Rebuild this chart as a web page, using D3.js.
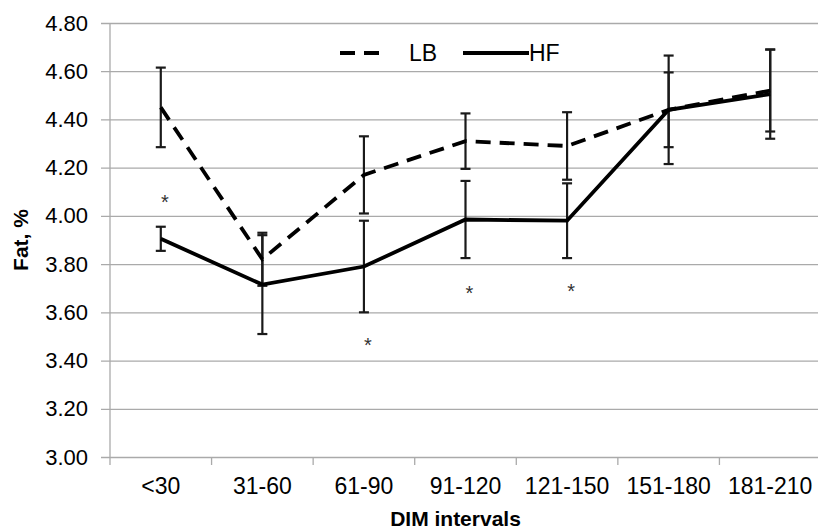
<!DOCTYPE html>
<html>
<head>
<meta charset="utf-8">
<script src="https://cdn.jsdelivr.net/npm/d3@7"></script>
<style>
  body { margin: 0; background: #fff; }
  svg { display: block; font-family: "Liberation Sans", Arial, sans-serif; }
</style>
</head>
<body>
<div id="chart"></div>
<script>
// data
const intervals = ["<30", "31-60", "61-90", "91-120", "121-150", "151-180", "181-210"];
const lbMean = [4.45, 3.82, 4.17, 4.31, 4.29, 4.44, 4.52];
const lbErr  = [0.165, 0.11, 0.16, 0.115, 0.14, 0.155, 0.17];
const hfMean = [3.905, 3.715, 3.79, 3.985, 3.98, 4.44, 4.505];
const hfErr  = [0.05, 0.205, 0.19, 0.16, 0.155, 0.225, 0.185];
const yTicks = [3.0, 3.2, 3.4, 3.6, 3.8, 4.0, 4.2, 4.4, 4.6, 4.8];
// significance marks: category and height (in % fat)
const stars = [
  { cat: "<30", y: 4.08 },
  { cat: "61-90", y: 3.485 },
  { cat: "91-120", y: 3.70 },
  { cat: "121-150", y: 3.71 }
];

const W = 818, H = 532;
const margin = {top: 23, right: -3, bottom: 75, left: 110};
const width = W - margin.left - margin.right,
      height = H - margin.top - margin.bottom;

const svg = d3.select("#chart").append("svg")
    .attr("width", W).attr("height", H)
  .append("g")
    .attr("transform", `translate(${margin.left},${margin.top})`);

const x = d3.scaleBand().domain(intervals).range([0, width]);
const y = d3.scaleLinear().domain([3.0, 4.8]).range([height, 0]);
const cx = d => x(d) + x.bandwidth() / 2;

// gridlines + y ticks
svg.append("g")
    .call(d3.axisLeft(y).tickValues(yTicks).tickFormat(d3.format(".2f"))
      .tickSize(-width).tickPadding(22))
    .call(g => g.select(".domain").remove())
    .call(g => g.selectAll(".tick line").attr("stroke", "#aaaaaa").attr("stroke-width", 1.3)
      .attr("x1", -9))
    .call(g => g.selectAll(".tick text").attr("fill", "#000").style("font-size", "22px"));

// y axis line
svg.append("line")
    .attr("x1", 0).attr("x2", 0).attr("y1", 0).attr("y2", height)
    .attr("stroke", "#aaaaaa").attr("stroke-width", 1.3);

// x axis: tick marks at category boundaries
svg.append("g")
    .attr("transform", `translate(0,${height})`)
    .selectAll("line")
    .data(intervals)
    .join("line")
    .attr("x1", d => x(d)).attr("x2", d => x(d))
    .attr("y1", 0).attr("y2", 8)
    .attr("stroke", "#aaaaaa").attr("stroke-width", 1.3);

svg.append("g")
    .selectAll("text")
    .data(intervals)
    .join("text")
    .attr("x", d => cx(d))
    .attr("y", height + 29)
    .attr("text-anchor", "middle")
    .attr("dominant-baseline", "central")
    .style("font-size", "23px")
    .text(d => d);

// axis titles
svg.append("text")
    .attr("x", width / 2 - 10)
    .attr("y", H - margin.top - 6)
    .attr("text-anchor", "middle")
    .style("font-size", "21px").style("font-weight", "bold")
    .text("DIM intervals");

svg.append("text")
    .attr("transform", "rotate(-90)")
    .attr("x", -(240 - margin.top))
    .attr("y", -90)
    .attr("text-anchor", "middle")
    .attr("dominant-baseline", "central")
    .style("font-size", "21px").style("font-weight", "bold")
    .text("Fat, %");

// error bars
function errorBars(means, errs) {
  const g = svg.append("g").attr("stroke", "#1a1a1a").attr("stroke-width", 2.2);
  intervals.forEach((c, i) => {
    const lo = y(means[i] - errs[i]), hi = y(means[i] + errs[i]);
    g.append("line").attr("x1", cx(c)).attr("x2", cx(c)).attr("y1", lo).attr("y2", hi);
    g.append("line").attr("x1", cx(c) - 5).attr("x2", cx(c) + 5).attr("y1", lo).attr("y2", lo);
    g.append("line").attr("x1", cx(c) - 5).attr("x2", cx(c) + 5).attr("y1", hi).attr("y2", hi);
  });
}
errorBars(lbMean, lbErr);
errorBars(hfMean, hfErr);

// lines
const line = d3.line().x((d, i) => cx(intervals[i])).y(d => y(d));

svg.append("path")
    .datum(lbMean)
    .attr("fill", "none").attr("stroke", "#000").attr("stroke-width", 3.8)
    .attr("stroke-dasharray", "15,9")
    .attr("d", line);

svg.append("path")
    .datum(hfMean)
    .attr("fill", "none").attr("stroke", "#000").attr("stroke-width", 3.8)
    .attr("d", line);

// asterisks
svg.append("g")
    .selectAll("text")
    .data(stars)
    .join("text")
    .attr("x", d => cx(d.cat) + 4)
    .attr("y", d => y(d.y) + 5)
    .attr("text-anchor", "middle")
    .attr("dominant-baseline", "central")
    .style("font-size", "20px")
    .attr("fill", "#333")
    .text("*");

// legend
const legend = [
  { label: "LB", dash: "15,9", x1: 340, x2: 388, tx: 409 },
  { label: "HF", dash: null, x1: 463, x2: 529, tx: 529 }
];
const lg = svg.append("g").attr("transform", `translate(${-margin.left},${53 - margin.top})`);
legend.forEach(d => {
  lg.append("line")
      .attr("x1", d.x1).attr("x2", d.x2).attr("y1", 0).attr("y2", 0)
      .attr("stroke", "#000").attr("stroke-width", 3.8)
      .attr("stroke-dasharray", d.dash);
  lg.append("text")
      .attr("x", d.tx).attr("y", 0)
      .attr("dominant-baseline", "central")
      .style("font-size", "23px")
      .text(d.label);
});
</script>
</body>
</html>
